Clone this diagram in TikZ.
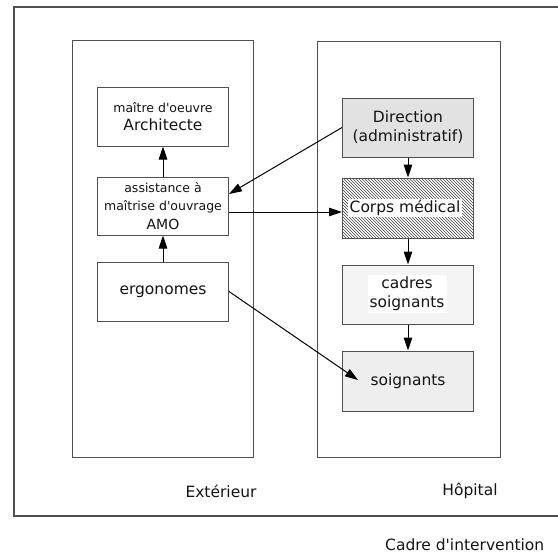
\documentclass[tikz,border=0pt]{standalone}
\usepackage{fontspec}
\setmainfont{DejaVu Sans}
\usetikzlibrary{arrows.meta,patterns}
\definecolor{linegray}{HTML}{505050}
\definecolor{dirfill}{HTML}{E2E2E2}
\definecolor{cadfill}{HTML}{F4F4F4}
\definecolor{soifill}{HTML}{EEEEEE}
\definecolor{txt}{HTML}{141414}
\newcommand{\apos}{\textquotesingle}
\tikzset{
  frame/.style={draw=linegray, line width=1.1pt},
  container/.style={draw=linegray, line width=1pt, rectangle, inner sep=0pt},
  boxe/.style={draw=linegray, line width=1pt, rectangle, inner sep=0pt, minimum width=131pt, text=txt, align=center},
  big/.style={font=\fontsize{15.5}{19}\selectfont},
  small/.style={font=\fontsize{12.5}{18.5}\selectfont},
  arr/.style={draw=black, line width=1pt, -{Triangle[length=13pt,width=8.5pt]}},
  lab/.style={text=txt, font=\fontsize{15.5}{18}\selectfont, inner sep=0pt},
}
\begin{document}
\begin{tikzpicture}[x=1pt,y=-1pt]
\useasboundingbox (0,0) rectangle (558,555);
\fill[white] (0,0) rectangle (558,555);
% outer frame (open on the right)
\draw[frame] (558,7) -- (14,7) -- (14,516) -- (558,516);
% containers
\node[container, minimum width=181pt, minimum height=417pt] (ext) at (162.5,248.5) {};
\node[container, minimum width=183pt, minimum height=416pt] (hop) at (408.5,249) {};
% left boxes
\node[boxe, small, minimum height=59pt] (arch) at (163,116.5)
  {maître d\apos oeuvre\\{\fontsize{15.5}{15.5}\selectfont Architecte}};
\node[boxe, small, minimum height=58pt] (amo) at (163,206)
  {assistance à\\maîtrise d\apos ouvrage\\{\fontsize{14}{14}\selectfont AMO}};
\node[boxe, big, minimum height=59pt] (ergo) at (163,291.5) {ergonomes};
% right boxes
\node[boxe, big, fill=dirfill, minimum height=59pt] (dir) at (408,127.5) {Direction\\(administratif)};
\node[boxe, pattern=north west lines, pattern color=black!75, minimum height=60pt] (corps) at (408,208) {};
\node[fill=white, inner sep=1.5pt, text=txt, big] (corpslab) at (405,208) {Corps médical};
\node[boxe, fill=cadfill, minimum height=59pt] (cad) at (408,294.5) {};
\node[fill=white, inner sep=2pt, text=txt, big, align=center] (cadlab) at (407,294) {cadres\\soignants};
\node[boxe, big, fill=soifill, minimum height=60pt] (soi) at (408,381) {soignants};
% labels
\node[lab] (lext) at (221,491) {Extérieur};
\node[lab] (lhop) at (470,491) {Hôpital};
\node[lab, anchor=west] (lcadre) at (385,545) {Cadre d\apos intervention};
% connectors
\draw[arr] (amo.north) -- (arch.south);
\draw[arr] (ergo.north) -- (amo.south);
\coordinate (amoin) at ([yshift=12pt]amo.east);
\draw[arr] (dir.west) -- (amoin);
\coordinate (amoout) at ([yshift=-6pt]amo.east);
\draw[arr] (amoout) -- (amoout -| corps.west);
\draw[arr] (dir.south) -- (corps.north);
\draw[arr] (corps.south) -- (cad.north);
\draw[arr] (cad.south) -- (soi.north);
\coordinate (soitip) at ([xshift=16pt,yshift=1pt]soi.west);
\draw[arr] (ergo.east) -- (soitip);
\end{tikzpicture}
\end{document}
